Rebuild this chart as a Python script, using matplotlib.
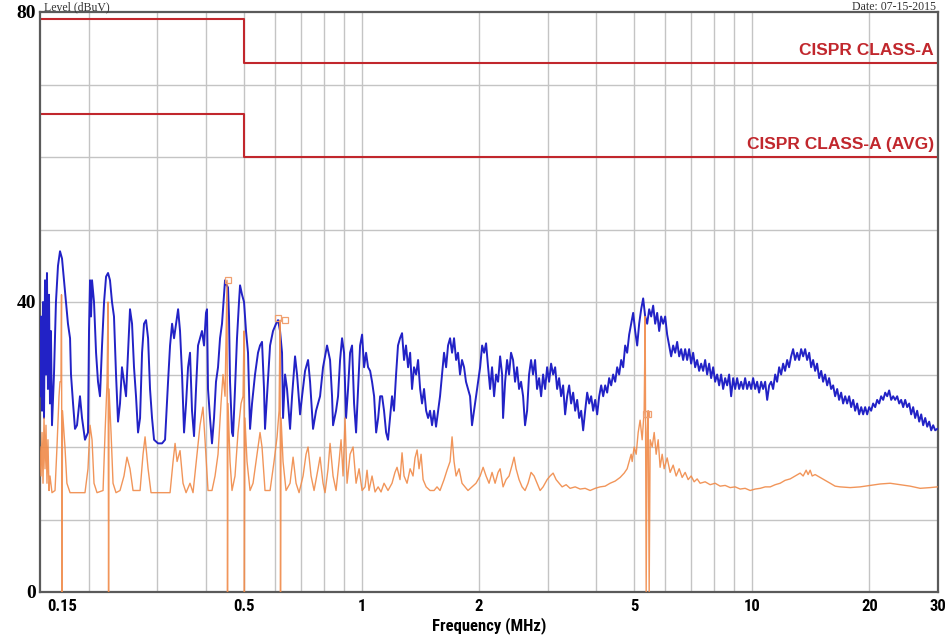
import matplotlib
matplotlib.use("Agg")
import matplotlib.pyplot as plt
from matplotlib import font_manager
from matplotlib.transforms import ScaledTranslation
from matplotlib.ticker import FixedLocator, NullFormatter, FixedFormatter

# ---------------- data ----------------
x_ticks = [0.15, 0.5, 1, 2, 5, 10, 20, 30]
x_tick_labels = ["0.15", "0.5", "1", "2", "5", "10", "20", "30"]
x_grid = [0.2, 0.3, 0.4, 0.5, 0.6, 0.7, 0.8, 0.9, 1, 2, 3, 4, 5, 6, 7, 8, 9, 10, 20]
y_ticks = [0, 40, 80]
y_grid = [10, 20, 30, 40, 50, 60, 70]

limit_qp_freq = [0.15, 0.5, 0.5, 30]
limit_qp_level = [79, 79, 73, 73]
limit_avg_freq = [0.15, 0.5, 0.5, 30]
limit_avg_level = [66, 66, 60, 60]
limit_names = ["CISPR CLASS-A", "CISPR CLASS-A (AVG)"]

peak_freq = [
    0.1500, 0.1509, 0.1518, 0.1527, 0.1536, 0.1545, 0.1554, 0.1563, 0.1572, 0.1582,
    0.1591, 0.1600, 0.1610, 0.1629, 0.1648, 0.1668, 0.1688, 0.1708, 0.1728, 0.1748,
    0.1769, 0.1791, 0.1801, 0.1823, 0.1844, 0.1866, 0.1899, 0.1922, 0.1956, 0.1991,
    0.2003, 0.2015, 0.2027, 0.2039, 0.2063, 0.2088, 0.2112, 0.2137, 0.2163, 0.2189,
    0.2215, 0.2241, 0.2267, 0.2294, 0.2321, 0.2349, 0.2377, 0.2405, 0.2433, 0.2462,
    0.2492, 0.2521, 0.2551, 0.2582, 0.2612, 0.2643, 0.2675, 0.2707, 0.2739, 0.2771,
    0.2804, 0.2838, 0.2871, 0.2905, 0.2940, 0.3010, 0.3082, 0.3137, 0.3193, 0.3231,
    0.3270, 0.3308, 0.3348, 0.3388, 0.3427, 0.3468, 0.3509, 0.3551, 0.3593, 0.3635,
    0.3678, 0.3722, 0.3766, 0.3811, 0.3856, 0.3901, 0.3948, 0.3994, 0.4018, 0.4042,
    0.4090, 0.4138, 0.4188, 0.4237, 0.4288, 0.4339, 0.4390, 0.4442, 0.4469, 0.4495,
    0.4548, 0.4575, 0.4603, 0.4657, 0.4685, 0.4740, 0.4796, 0.4853, 0.4883, 0.4941,
    0.4999, 0.5058, 0.5118, 0.5180, 0.5241, 0.5334, 0.5429, 0.5494, 0.5559, 0.5625,
    0.5658, 0.5725, 0.5829, 0.5932, 0.6039, 0.6111, 0.6183, 0.6256, 0.6293, 0.6368,
    0.6443, 0.6559, 0.6637, 0.6755, 0.6835, 0.6958, 0.7040, 0.7166, 0.7294, 0.7381,
    0.7512, 0.7646, 0.7829, 0.7968, 0.8158, 0.8305, 0.8403, 0.8453, 0.8604, 0.8706,
    0.8810, 0.8914, 0.9020, 0.9127, 0.9235, 0.9346, 0.9456, 0.9569, 0.9683, 0.9798,
    0.9914, 1.0032, 1.0151, 1.0271, 1.0393, 1.052, 1.064, 1.077, 1.090, 1.103,
    1.116, 1.129, 1.142, 1.156, 1.169, 1.183, 1.197, 1.211, 1.226, 1.240,
    1.255, 1.270, 1.285, 1.300, 1.316, 1.332, 1.347, 1.363, 1.380, 1.396,
    1.413, 1.429, 1.446, 1.464, 1.481, 1.498, 1.516, 1.534, 1.552, 1.571,
    1.589, 1.608, 1.627, 1.647, 1.666, 1.686, 1.706, 1.726, 1.747, 1.767,
    1.788, 1.809, 1.831, 1.852, 1.874, 1.897, 1.919, 1.942, 1.965, 1.989,
    2.013, 2.037, 2.061, 2.085, 2.110, 2.135, 2.160, 2.186, 2.212, 2.238,
    2.265, 2.292, 2.305, 2.333, 2.360, 2.388, 2.416, 2.445, 2.474, 2.503,
    2.533, 2.563, 2.594, 2.624, 2.656, 2.687, 2.719, 2.751, 2.784, 2.817,
    2.851, 2.885, 2.919, 2.954, 2.989, 3.024, 3.060, 3.097, 3.134, 3.171,
    3.208, 3.246, 3.285, 3.324, 3.364, 3.404, 3.444, 3.485, 3.527, 3.569,
    3.611, 3.654, 3.697, 3.741, 3.786, 3.831, 3.876, 3.922, 3.969, 4.016,
    4.064, 4.112, 4.161, 4.210, 4.260, 4.310, 4.362, 4.413, 4.466, 4.519,
    4.572, 4.627, 4.682, 4.737, 4.793, 4.850, 4.908, 4.966, 5.025, 5.085,
    5.145, 5.206, 5.268, 5.331, 5.394, 5.458, 5.523, 5.588, 5.655, 5.722,
    5.790, 5.858, 5.928, 5.998, 6.069, 6.141, 6.214, 6.288, 6.363, 6.438,
    6.515, 6.592, 6.670, 6.749, 6.829, 6.910, 6.992, 7.075, 7.159, 7.244,
    7.330, 7.417, 7.505, 7.594, 7.684, 7.775, 7.867, 7.961, 8.055, 8.151,
    8.247, 8.345, 8.444, 8.545, 8.646, 8.749, 8.852, 8.958, 9.064, 9.171,
    9.280, 9.390, 9.502, 9.614, 9.728, 9.844, 9.961, 10.08, 10.20, 10.32,
    10.44, 10.57, 10.69, 10.82, 10.95, 11.08, 11.21, 11.34, 11.48, 11.61,
    11.75, 11.89, 12.03, 12.17, 12.32, 12.46, 12.61, 12.76, 12.91, 13.07,
    13.22, 13.38, 13.54, 13.70, 13.86, 14.03, 14.19, 14.36, 14.53, 14.70,
    14.88, 15.06, 15.23, 15.41, 15.60, 15.78, 15.97, 16.16, 16.35, 16.55,
    16.74, 16.94, 17.14, 17.35, 17.55, 17.76, 17.97, 18.19, 18.40, 18.62,
    18.84, 19.07, 19.29, 19.52, 19.75, 19.99, 20.22, 20.46, 20.71, 20.95,
    21.20, 21.45, 21.71, 21.97, 22.23, 22.49, 22.76, 23.03, 23.30, 23.58,
    23.86, 24.14, 24.43, 24.72, 25.01, 25.31, 25.61, 25.91, 26.22, 26.53,
    26.85, 27.17, 27.49, 27.82, 28.15, 28.48, 28.82, 29.16, 29.51, 29.86,
]
peak_level = [
    27, 38, 25, 40, 24, 43, 30, 44, 28, 41,
    26, 36, 23, 30, 40, 45, 47, 46, 43, 40,
    37, 35, 30, 26, 22.5, 23, 27, 24, 21, 22,
    36, 43, 38, 43, 40, 33, 29, 27, 34, 40,
    43.5, 44, 43, 40, 38, 30, 23.5, 26, 31, 29,
    27, 33, 39, 37, 31, 27, 22, 24, 33, 37,
    37.5, 35, 28, 24, 21, 20.5, 20.5, 21, 29, 34,
    37, 35, 37, 39, 36, 30, 22, 26, 31, 33,
    25, 21.5, 28, 34, 35, 36, 34, 38.5, 39, 28,
    24, 20.5, 24, 29, 31, 35, 37, 41, 43, 42.5,
    42, 38, 29, 22, 21.5, 28, 35, 40, 42.3, 41,
    40, 36, 33, 22.5, 26, 30, 33, 34, 34.5, 28,
    22.5, 27, 34, 36, 37, 37.5, 36, 33, 24, 30,
    28, 22.5, 27, 32.5, 30, 24.5, 27, 30.5, 32, 29,
    22.5, 25, 27, 31, 34, 32, 27, 23, 25, 27,
    32, 35, 33, 24, 28, 33, 34, 26, 22, 28,
    34, 35.5, 31, 33, 31, 30.5, 29, 27, 22, 24,
    27, 27, 25, 22, 21, 24, 27, 25, 30, 34,
    35, 35.7, 32, 34, 31, 33, 28, 31, 30, 32,
    28, 26, 28, 25, 24, 25, 23, 25, 22.8, 25,
    27, 30, 33, 31, 34, 35, 33, 35, 32, 33,
    30, 32, 31, 29, 28, 27, 23, 25, 27, 29,
    31, 34, 33, 34.3, 31, 28, 31, 27, 30, 29,
    32.5, 30, 24, 29, 32, 30, 33, 32, 29, 31,
    28, 29, 27, 23, 25, 30, 32, 30, 32, 28,
    29.5, 27, 30, 28, 31, 29, 31.5, 30, 31, 28,
    29.5, 27, 28.5, 24.5, 27, 28.5, 26, 27.5, 25, 26.5,
    24, 25, 22.3, 25, 27.5, 26, 27, 25, 26.5, 24.5,
    27, 28.5, 27, 28.5, 27.5, 29.5, 28.5, 30, 29, 31,
    30, 32, 31, 34, 33, 35.5, 37, 38.5, 36, 34,
    37, 39, 40.5, 38, 37, 39, 38, 39.5, 37, 38.5,
    36, 38, 37, 38, 35.5, 34, 32.5, 34, 33, 34.5,
    32.5, 33.5, 32, 33.5, 32, 33.5, 31.5, 33, 31, 32,
    30.5, 31.5, 30.5, 32, 30, 31.5, 29.5, 31, 29, 30,
    28.5, 30, 28, 29.5, 28.5, 30, 27, 29.5, 28, 29.5,
    28, 29, 28, 29.5, 28, 29, 28, 29.5, 28, 29,
    27.5, 29, 28, 29, 26.5, 28.5, 29, 28, 30, 29,
    31, 30, 31.5, 30.5, 32, 31, 32.5, 33.5, 32, 33,
    32, 33.5, 32.5, 33.5, 32, 33, 31, 32, 30.5, 31.5,
    29.5, 30.5, 29, 30, 28.5, 29.5, 28, 28.5, 27, 28,
    26.5, 27.5, 26, 27, 26, 27, 25.5, 26.5, 25, 26,
    24.5, 25.5, 24.5, 25.5, 24.5, 25.5, 25, 26, 25.5, 26.5,
    26, 27, 26.5, 27.5, 27, 27.8, 26.5, 27, 26.5, 27,
    26, 26.5, 25.5, 26.5, 25.5, 26, 24.5, 25.5, 24, 25,
    23.5, 24.5, 23, 24, 22.8, 23.5, 22.3, 23, 22.3, 22.5,
]

avg_freq = [
    0.1500, 0.1509, 0.1518, 0.1527, 0.1536, 0.1545, 0.1554, 0.1563, 0.1572, 0.1582,
    0.1591, 0.1610, 0.1639, 0.1658, 0.1678, 0.1688, 0.1698, 0.1703, 0.1708, 0.1713,
    0.1738, 0.1758, 0.1791, 0.1956, 0.1991, 0.2015, 0.2039, 0.2063, 0.2100, 0.2176,
    0.2202, 0.2228, 0.2241, 0.2248, 0.2254, 0.2281, 0.2308, 0.2349, 0.2405, 0.2462,
    0.2506, 0.2551, 0.2597, 0.2707, 0.2755, 0.2788, 0.2838, 0.2888, 0.3231, 0.3289,
    0.3328, 0.3368, 0.3427, 0.3488, 0.3551, 0.3635, 0.3700, 0.3788, 0.3856, 0.3924,
    0.3971, 0.4042, 0.4138, 0.4213, 0.4288, 0.4364, 0.4416, 0.4469, 0.4522, 0.4535,
    0.4548, 0.4603, 0.4657, 0.4740, 0.4825, 0.4912, 0.4970, 0.4999, 0.5010, 0.5025,
    0.5088, 0.5180, 0.5272, 0.5366, 0.5494, 0.5559, 0.5658, 0.5829, 0.5968, 0.6075,
    0.6147, 0.6183, 0.6200, 0.6220, 0.6293, 0.6405, 0.6559, 0.6677, 0.6795, 0.6917,
    0.7082, 0.7208, 0.7294, 0.7425, 0.7557, 0.7737, 0.7829, 0.7968, 0.8063, 0.8207,
    0.8305, 0.8453, 0.8604, 0.8758, 0.8862, 0.8967, 0.9074, 0.9181, 0.9346, 0.9512,
    0.9683, 0.9856, 1.0032, 1.021, 1.033, 1.045, 1.064, 1.083, 1.103, 1.122,
    1.142, 1.169, 1.197, 1.218, 1.233, 1.255, 1.270, 1.285, 1.308, 1.332,
    1.355, 1.371, 1.388, 1.404, 1.421, 1.438, 1.464, 1.498, 1.534, 1.561,
    1.589, 1.627, 1.656, 1.686, 1.706, 1.726, 1.747, 1.778, 1.809, 1.842,
    1.874, 1.919, 1.965, 2.013, 2.049, 2.085, 2.122, 2.160, 2.199, 2.238,
    2.265, 2.305, 2.346, 2.388, 2.431, 2.460, 2.489, 2.533, 2.578, 2.624,
    2.671, 2.719, 2.768, 2.817, 2.868, 2.919, 2.989, 3.042, 3.097, 3.152,
    3.208, 3.266, 3.344, 3.423, 3.527, 3.632, 3.741, 3.852, 3.969, 4.086,
    4.210, 4.334, 4.466, 4.598, 4.710, 4.793, 4.850, 4.908, 4.937, 4.996,
    5.055, 5.115, 5.174, 5.237, 5.299, 5.331, 5.362, 5.394, 5.426, 5.458,
    5.490, 5.556, 5.622, 5.688, 5.756, 5.822, 5.893, 5.963, 6.069, 6.176,
    6.288, 6.400, 6.515, 6.631, 6.749, 6.869, 6.992, 7.117, 7.244, 7.373,
    7.594, 7.821, 8.055, 8.297, 8.545, 8.801, 9.064, 9.336, 9.614, 9.904,
    10.20, 10.51, 10.82, 11.15, 11.48, 11.82, 12.17, 12.54, 12.91, 13.30,
    13.54, 13.78, 13.94, 14.11, 14.28, 14.53, 14.97, 15.41, 15.88, 16.35,
    16.84, 17.87, 18.95, 20.10, 21.33, 22.62, 24.00, 25.46, 27.00, 28.65,
    29.86,
]
avg_level = [
    20, 16, 22, 15, 24, 17, 23, 15, 21, 14,
    16, 13.7, 14, 20, 27, 29, 29, 41, 0, 25,
    20, 15, 13.7, 13.7, 17, 23, 21, 15, 13.7, 14,
    22, 29, 40, 0, 28, 22, 15, 13.7, 14, 16,
    18.6, 17, 14, 14, 19, 21.4, 17, 13.7, 13.7, 18,
    20.5, 18, 19.5, 15, 13.7, 15, 13.7, 19, 23, 25.5,
    21, 14, 14, 16, 19, 26, 30, 27, 43, 0,
    26, 18, 14, 16, 22, 26, 27, 36, 0, 24,
    18, 14, 15, 18, 22, 20, 14, 14, 18, 21.4,
    25, 37.5, 0, 24, 18, 14, 15, 18.6, 15, 13.7,
    16, 19, 20, 16, 14, 17, 18.6, 15, 13.7, 17,
    20.5, 16, 14, 18, 21, 16, 24, 15, 19, 20,
    15, 17, 14, 14.5, 16.8, 14, 16, 13.8, 14.5, 13.8,
    15, 14, 15, 16.5, 17.2, 15.5, 19.2, 16, 15, 17,
    16, 18.5, 19.6, 17, 19, 15.5, 14.5, 14, 14, 14.5,
    14, 15.5, 16.8, 18, 21.4, 18, 16, 17, 15, 14.5,
    14, 14.5, 15, 16, 17.2, 16, 15, 16.5, 15, 16.5,
    17, 14.5, 15.5, 16, 17.5, 18.6, 17, 15.5, 14.5, 14,
    15, 16.5, 16, 15, 14, 14.5, 15.5, 16, 16.4, 15.5,
    15, 14.5, 14.8, 14.3, 14.5, 14.2, 14.3, 14, 14.3, 14.5,
    14.6, 15, 15.3, 15.8, 16.4, 17, 18, 19, 18, 20,
    19, 22, 23.7, 21, 25, 38, 0, 22, 25, 0,
    21, 20, 22, 19, 21, 17.2, 19, 17, 18.5, 16.5,
    17.5, 16, 17, 15.8, 16.5, 15.5, 16, 15.2, 15.6, 15,
    15.2, 14.8, 15, 14.6, 14.7, 14.4, 14.5, 14.2, 14.3, 14,
    14.2, 14.3, 14.5, 14.5, 14.8, 15, 15.4, 15.6, 16, 16.4,
    16, 16.8, 16.2, 16.8, 16, 16.2, 15.8, 15.4, 15, 14.6,
    14.5, 14.4, 14.5, 14.7, 14.9, 15, 14.8, 14.6, 14.3, 14.4,
    14.5,
]

marker_freq = [0.4535, 0.612, 0.638, 5.36, 5.43]
marker_level = [43, 37.8, 37.5, 24.5, 24.5]

# ---------------- styling ----------------
RED = "#c1272d"
BLUE = "#2222c6"
ORANGE = "#f08a48"
GRID = "#c4c4c4"
FRAME = "#5a5a5a"

installed = {f.name for f in font_manager.fontManager.ttflist}
if "Liberation Sans Narrow" in installed:
    NARROW = dict(family=["Liberation Sans Narrow", "DejaVu Sans"], stretch="normal")
elif "Roboto Condensed" in installed:
    NARROW = dict(family=["Roboto Condensed", "DejaVu Sans"], stretch="normal")
else:
    NARROW = dict(family=["DejaVu Sans"], stretch="condensed")

fig = plt.figure(figsize=(9.52, 6.44), dpi=100)
ax = fig.add_axes([40 / 952, 52 / 644, 898 / 952, 580 / 644])

ax.set_xscale("log")
ax.set_xlim(0.15, 30)
ax.set_ylim(0, 80)

# grid
for g in x_grid:
    ax.axvline(g, color=GRID, lw=1.0, zorder=0)
for g in y_grid:
    ax.axhline(g, color=GRID, lw=1.0, zorder=0)

# traces
ax.plot(peak_freq, peak_level, color=BLUE, lw=1.4, zorder=3)
ax.plot(avg_freq, avg_level, color=ORANGE, lw=1.0, alpha=0.9, zorder=4)
ax.plot(marker_freq, marker_level, linestyle="none", marker="s", ms=5,
        mfc="none", mec="#f0a070", mew=0.9, zorder=5)

# limits
ax.plot(limit_qp_freq, limit_qp_level, color=RED, lw=1.5, zorder=2)
ax.plot(limit_avg_freq, limit_avg_level, color=RED, lw=1.5, zorder=2)
ax.text(29.3, limit_qp_level[-1] + 0.7, limit_names[0], color=RED,
        fontsize=12.5, fontweight="bold", ha="right", va="bottom",
        family=["Liberation Sans", "DejaVu Sans"])
ax.text(29.3, limit_avg_level[-1] + 0.7, limit_names[1], color=RED,
        fontsize=12.5, fontweight="bold", ha="right", va="bottom",
        family=["Liberation Sans", "DejaVu Sans"])

# ticks
ax.xaxis.set_major_locator(FixedLocator(x_ticks))
ax.xaxis.set_major_formatter(FixedFormatter(x_tick_labels))
ax.xaxis.set_minor_locator(FixedLocator([]))
ax.xaxis.set_minor_formatter(NullFormatter())
ax.yaxis.set_major_locator(FixedLocator(y_ticks))
ax.tick_params(axis="both", length=0)
ax.tick_params(axis="x", pad=5)
ax.tick_params(axis="y", pad=3)
xlabels = ax.get_xticklabels()
for lab in xlabels:
    lab.set_fontfamily(NARROW["family"])
    lab.set_fontstretch(NARROW["stretch"])
    lab.set_fontweight("bold")
    lab.set_fontsize(12)
# first label sits to the right of the axis corner, clear of the "0"
xlabels[0].set_horizontalalignment("left")
xlabels[0].set_transform(xlabels[0].get_transform()
                         + ScaledTranslation(7 / 100, 0, fig.dpi_scale_trans))
for lab in ax.get_yticklabels():
    lab.set_fontfamily(["Liberation Serif", "DejaVu Serif"])
    lab.set_fontweight("bold")
    lab.set_fontsize(14)

ax.set_xlabel("Frequency (MHz)", fontsize=12, fontweight="bold",
              family=NARROW["family"], fontstretch=NARROW["stretch"], labelpad=2)

for s in ax.spines.values():
    s.set_color(FRAME)
    s.set_linewidth(1.6)

# header texts just above the frame
fig.text(44 / 952, 1.0 - 1 / 644, "Level (dBuV)", fontsize=8.5, va="top", ha="left",
         family=["Liberation Serif", "DejaVu Serif"], color="#333333")
fig.text(936 / 952, 1.0 - 1 / 644, "Date: 07-15-2015", fontsize=8.5, va="top", ha="right",
         family=["Liberation Serif", "DejaVu Serif"], color="#333333")

fig.savefig("out.png", dpi=100)
